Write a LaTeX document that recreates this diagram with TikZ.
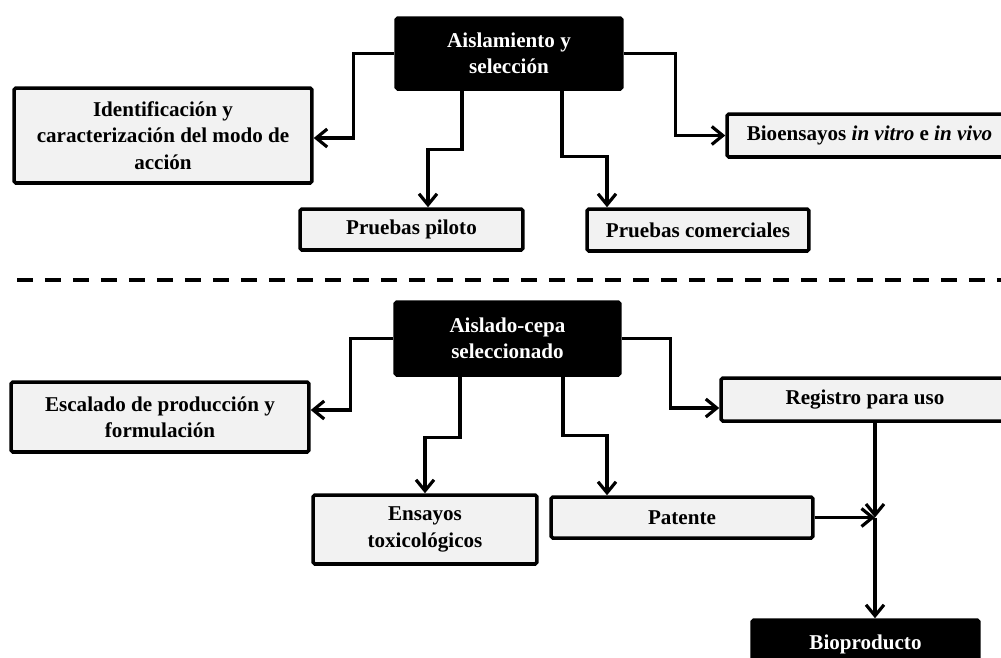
\documentclass[tikz,border=0pt]{standalone}
\usepackage{fontspec}
\setmainfont{Liberation Serif}
\usetikzlibrary{arrows.meta, positioning}
\definecolor{boxgray}{HTML}{F2F2F2}

\begin{document}
\begin{tikzpicture}[
  x=0.02cm, y=-0.02cm,
  every node/.style = {font=\fontsize{12}{15}\selectfont\bfseries},
  stage/.style = {draw, line width=2pt, fill=boxgray, align=center, rounded corners=1pt, inner sep=2pt},
  hub/.style = {draw, line width=2pt, fill=black, text=white, align=center, rounded corners=1pt},
  conn/.style = {line width=1.8pt, ->},
  >={Straight Barb[length=2.2mm, width=3.6mm]}
]
  \path[use as bounding box, clip] (0,0) rectangle (1001,657);

  % upper scheme
  \node[hub, minimum width=4.52cm, minimum height=1.42cm] (sel1) at (509,53.5) {Aislamiento y\\selección};
  \node[stage, minimum width=5.96cm, minimum height=1.9cm] (ident) at (163,135.5) {Identificación y\\caracterización del modo de\\acción};
  \node[stage, minimum width=4.46cm, minimum height=0.82cm] (piloto) at (411.5,229.5) {Pruebas piloto};
  \node[stage, minimum width=4.44cm, minimum height=0.84cm] (comerc) at (698,230) {Pruebas comerciales};
  \node[stage, minimum width=5.7cm, minimum height=0.86cm] (bioens) at (869.5,135.5) {Bioensayos \textit{in vitro} e \textit{in vivo}};

  \draw[conn] (sel1.west) -- ++(-41,0) |- ([yshift=-0.05cm]ident.east);
  \draw[conn] ([xshift=-0.94cm]sel1.south) -- ++(0,59) -| ([xshift=0.33cm]piloto.north);
  \draw[conn] ([xshift=1.06cm]sel1.south) -- ++(0,66) -| ([xshift=-1.82cm]comerc.north);
  \draw[conn] (sel1.east) -- ++(52,0) |- (bioens.west);

  \draw[line width=2pt, dash pattern=on 0.32cm off 0.24cm] (17,280) -- (1001,280);

  % lower scheme
  \node[hub, minimum width=4.5cm, minimum height=1.46cm] (sel2) at (507.5,338.5) {Aislado-cepa\\seleccionado};
  \node[stage, minimum width=5.96cm, minimum height=1.4cm] (escal) at (160,417) {Escalado de producción y\\formulación};
  \node[stage, minimum width=4.48cm, minimum height=1.38cm] (toxic) at (425,529.5) {Ensayos\\toxicológicos};
  \node[stage, minimum width=5.24cm, minimum height=0.82cm] (patente) at (682,517.5) {Patente};
  \node[stage, minimum width=5.76cm, minimum height=0.86cm] (registro) at (865,399.5) {Registro para uso};
  \node[hub, minimum width=4.54cm, minimum height=0.96cm] (biop) at (865.5,644) {Bioproducto};
  \coordinate (join) at (875,517.5);

  \draw[conn] (sel2.west) -- ++(-43,0) |- ([yshift=0.14cm]escal.east);
  \draw[conn] ([xshift=-0.95cm]sel2.south) -- ++(0,61) -| (toxic.north);
  \draw[conn] ([xshift=1.11cm]sel2.south) -- ++(0,59) -| ([xshift=-1.5cm]patente.north);
  \draw[conn] (sel2.east) -- ++(49,0) |- ([yshift=-0.17cm]registro.west);
  \draw[conn] (registro.south -| join) -- (join);
  \draw[conn] (patente.east) -- (join);
  \draw[conn] (join) -- (join |- biop.north);
\end{tikzpicture}
\end{document}
